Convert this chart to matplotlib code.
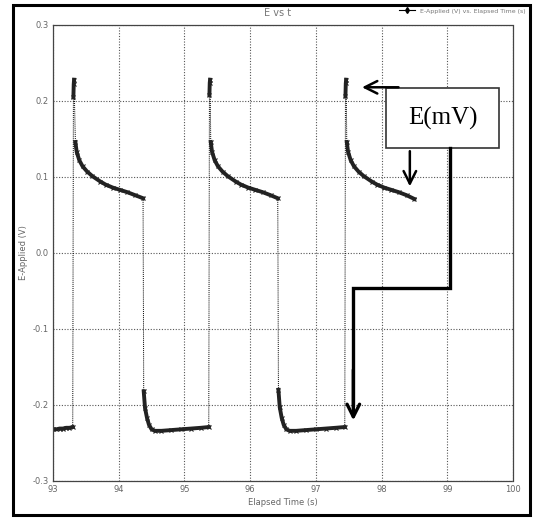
import numpy as np
import matplotlib.pyplot as plt
from matplotlib.patches import Rectangle

# potential trace, three pulse cycles
time_s = [93.00, 93.05, 93.10, 93.15, 93.20, 93.25, 93.30,
          93.31, 93.315, 93.32,
          93.34, 93.36, 93.40, 93.45, 93.52, 93.60, 93.72, 93.80, 93.91, 94.02, 94.13, 94.25, 94.37,
          94.38, 94.40, 94.43, 94.46, 94.50, 94.55, 94.65, 94.80, 94.95, 95.10, 95.25, 95.37,
          95.38, 95.385, 95.39,
          95.40, 95.42, 95.46, 95.51, 95.58, 95.66, 95.78, 95.86, 95.97, 96.08, 96.19, 96.31, 96.42,
          96.43, 96.45, 96.48, 96.51, 96.55, 96.60, 96.70, 96.85, 97.00, 97.15, 97.30, 97.44,
          97.45, 97.455, 97.46,
          97.47, 97.49, 97.53, 97.58, 97.65, 97.73, 97.85, 97.93, 98.04, 98.15, 98.26, 98.38, 98.50]
volt = [-0.232, -0.232, -0.231, -0.231, -0.230, -0.230, -0.229,
        0.205, 0.222, 0.228,
        0.146, 0.133, 0.122, 0.114, 0.107, 0.101, 0.094, 0.090, 0.086, 0.083, 0.080, 0.076, 0.072,
        -0.182, -0.204, -0.217, -0.226, -0.232, -0.234, -0.234, -0.233, -0.232, -0.231, -0.230, -0.229,
        0.208, 0.224, 0.228,
        0.146, 0.133, 0.122, 0.114, 0.107, 0.101, 0.094, 0.090, 0.086, 0.083, 0.080, 0.076, 0.072,
        -0.180, -0.203, -0.217, -0.226, -0.232, -0.234, -0.234, -0.233, -0.232, -0.231, -0.230, -0.229,
        0.206, 0.223, 0.228,
        0.146, 0.133, 0.122, 0.114, 0.107, 0.101, 0.094, 0.090, 0.086, 0.083, 0.080, 0.076, 0.071]

xticks = [93, 94, 95, 96, 97, 98, 99, 100]
yticks = [-0.3, -0.2, -0.1, 0.0, 0.1, 0.2, 0.3]

t = np.array(time_s)
v = np.array(volt)

fig = plt.figure(figsize=(5.34, 5.2), dpi=100)
ax = fig.add_axes([0.0993, 0.075, 0.8614, 0.877])

# thin dotted connectors where the potential jumps, thick trace elsewhere
jump = np.abs(np.diff(v)) > 0.04
for i in range(len(t) - 1):
    if jump[i]:
        ax.plot(t[i:i+2], v[i:i+2], color='k', lw=0.7, ls=(0, (1, 1)))
starts = np.r_[0, np.where(jump)[0] + 1]
ends = np.r_[np.where(jump)[0] + 1, len(t)]
for s, e in zip(starts, ends):
    ax.plot(t[s:e], v[s:e], color='#222222', lw=2.8, marker='x', ms=2.5, mew=0.8)
ax.plot([], [], color='k', lw=0.8, marker='d', ms=3, label='E-Applied (V) vs. Elapsed Time (s)')

ax.set_xlim(93, 100)
ax.set_ylim(-0.3, 0.3)
ax.set_xticks(xticks)
ax.set_yticks(yticks)
ax.set_xticklabels([str(x) for x in xticks])
ax.set_yticklabels(['%.1f' % y for y in yticks])
ax.tick_params(labelsize=6, colors='#666666', length=0, pad=3)
ax.grid(True, color='#555555', ls=(0, (1, 1.5)), lw=0.8)
for sp in ax.spines.values():
    sp.set_linestyle((0, (1, 1)))
    sp.set_color('#444444')
    sp.set_linewidth(0.9)
ax.set_xlabel('Elapsed Time (s)', fontsize=6, color='#666666', labelpad=3)
ax.set_ylabel('E-Applied (V)', fontsize=6, color='#666666', labelpad=3)
fig.text(0.519, 0.975, 'E vs t', fontsize=7, color='#777777', ha='center', va='center')
fig.legend(loc='upper right', bbox_to_anchor=(0.995, 0.995), fontsize=4.5, frameon=False,
           handlelength=2.5, labelcolor='#777777')

# outer border
fig.patches.append(Rectangle((0.025, 0.01), 0.968, 0.98, transform=fig.transFigure,
                             fill=False, ec='k', lw=2.2))

# E(mV) callout
ax.add_patch(Rectangle((98.07, 0.1376), 1.72, 0.080, fc='white', ec='#333333', lw=1.2, zorder=4))
ax.text(98.93, 0.1776, 'E(mV)', family='Liberation Serif', fontsize=18, ha='center', va='center',
        zorder=5)
arr = dict(arrowstyle='->,head_length=0.9,head_width=0.45', color='k', lw=1.8)
ax.annotate('', xy=(97.66, 0.218), xytext=(98.30, 0.218), arrowprops=arr, zorder=6)
ax.annotate('', xy=(98.43, 0.084), xytext=(98.43, 0.1376), arrowprops=arr, zorder=6)
ax.plot([99.04, 99.04, 97.57, 97.57], [0.1376, -0.046, -0.046, -0.20], color='k', lw=2.4,
        solid_joinstyle='miter', zorder=6)
ax.annotate('', xy=(97.57, -0.224), xytext=(97.57, -0.15),
            arrowprops=dict(arrowstyle='->,head_length=0.9,head_width=0.45', color='k', lw=2.4),
            zorder=6)

fig.savefig('out.png', dpi=100)
